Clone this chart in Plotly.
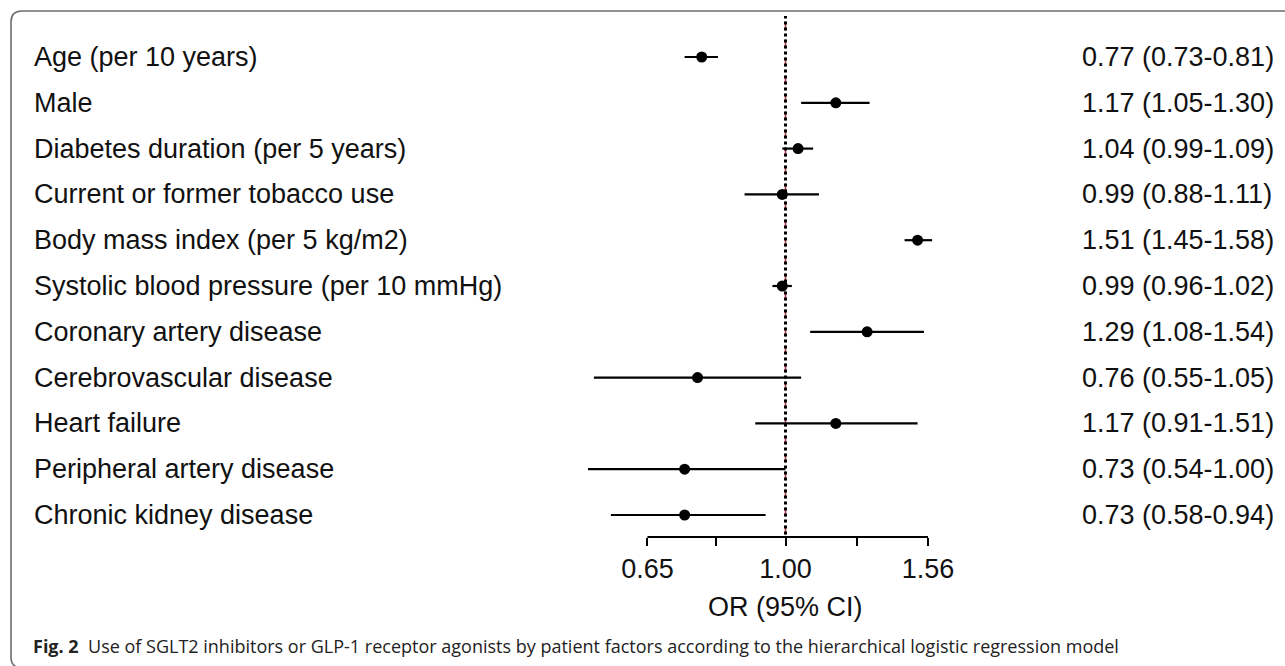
import math
import plotly.graph_objects as go

# ---- data ----
factors = [
    "Age (per 10 years)",
    "Male",
    "Diabetes duration (per 5 years)",
    "Current or former tobacco use",
    "Body mass index (per 5 kg/m2)",
    "Systolic blood pressure (per 10 mmHg)",
    "Coronary artery disease",
    "Cerebrovascular disease",
    "Heart failure",
    "Peripheral artery disease",
    "Chronic kidney disease",
]
odds_ratio = [0.77, 1.17, 1.04, 0.99, 1.51, 0.99, 1.29, 0.76, 1.17, 0.73, 0.73]
ci_low = [0.73, 1.05, 0.99, 0.88, 1.45, 0.96, 1.08, 0.55, 0.91, 0.54, 0.58]
ci_high = [0.81, 1.30, 1.09, 1.11, 1.58, 1.02, 1.54, 1.05, 1.51, 1.00, 0.94]
tick_vals = [0.65, 0.806, 1.00, 1.249, 1.56]
tick_text = ["0.65", "", "1.00", "", "1.56"]
ref_value = 1.0
caption_bold = "Fig. 2"
caption_text = "Use of SGLT2 inhibitors or GLP-1 receptor agonists by patient factors according to the hierarchical logistic regression model"
x_title = "OR (95% CI)"

# ---- layout geometry (pixels) ----
FW, FH = 1285, 666
L, R = 560, 960
T, B = 16, 537
ROW0, ROWSTEP = 57, 45.8
ONE_PX, PX_PER_DEC = 785.5, 738.0

def px(xp):
    return (xp - L) / (R - L)

def py(yp):
    return (B - yp) / (B - T)

n = len(factors)
idx = list(range(n))
labels_txt = [f"{o:.2f} ({lo:.2f}-{hi:.2f})" for o, lo, hi in zip(odds_ratio, ci_low, ci_high)]

FONT = "Liberation Sans, Arial, sans-serif"
FS = 27

fig = go.Figure()
fig.add_trace(go.Scatter(
    x=odds_ratio, y=idx, mode="markers",
    marker=dict(color="black", size=11),
    error_x=dict(type="data", symmetric=False,
                 array=[h - o for h, o in zip(ci_high, odds_ratio)],
                 arrayminus=[o - l for o, l in zip(odds_ratio, ci_low)],
                 color="black", thickness=2.2, width=0),
    showlegend=False, hoverinfo="skip",
))

shapes = []
# reference line at OR = 1 (red dashed under black dotted)
shapes.append(dict(type="line", xref="x", yref="paper", x0=ref_value, x1=ref_value,
                   y0=0.005, y1=1, line=dict(color="#b03040", width=1.5, dash="dash"), layer="below"))
shapes.append(dict(type="line", xref="x", yref="paper", x0=ref_value, x1=ref_value,
                   y0=0.005, y1=1, line=dict(color="black", width=3, dash="dot"), layer="below"))
# axis line spanning tick range
shapes.append(dict(type="line", xref="x", yref="paper", x0=tick_vals[0], x1=tick_vals[-1],
                   y0=0, y1=0, line=dict(color="black", width=2)))
# frame (rounded rect partially cut off)
fx0, fy0, rr = 11, 11, 11
path = (f"M {px(FW + 10)},{py(FH + 2)} L {px(fx0 + rr)},{py(FH + 2)} "
        f"Q {px(fx0)},{py(FH + 2)} {px(fx0)},{py(FH + 2 - rr)} "
        f"L {px(fx0)},{py(fy0 + rr)} Q {px(fx0)},{py(fy0)} {px(fx0 + rr)},{py(fy0)} "
        f"L {px(FW + 10)},{py(fy0)}")
shapes.append(dict(type="path", xref="paper", yref="paper", path=path,
                   line=dict(color="#6e6e6e", width=1.6)))

annotations = []
for i in idx:
    annotations.append(dict(xref="paper", yref="y", x=px(32), y=i, text=factors[i],
                            xanchor="left", yanchor="middle", showarrow=False,
                            font=dict(family=FONT, size=FS, color="#111")))
    annotations.append(dict(xref="paper", yref="y", x=px(1080), y=i, text=labels_txt[i],
                            xanchor="left", yanchor="middle", showarrow=False,
                            font=dict(family=FONT, size=FS, color="#111")))
annotations.append(dict(xref="x", yref="paper", x=math.log10(ref_value), y=py(607), text=x_title,
                        xanchor="center", yanchor="middle", showarrow=False,
                        font=dict(family=FONT, size=FS, color="#111")))
annotations.append(dict(xref="paper", yref="paper", x=px(31), y=py(646),
                        text=f"<b>{caption_bold}</b>  {caption_text}",
                        xanchor="left", yanchor="middle", showarrow=False,
                        font=dict(family="Open Sans, sans-serif", size=18, color="#222")))

fig.update_layout(
    width=FW, height=FH,
    margin=dict(l=L, r=FW - R, t=T, b=FH - B, pad=0),
    paper_bgcolor="white", plot_bgcolor="white",
    xaxis=dict(type="log",
               range=[(L - ONE_PX) / PX_PER_DEC, (R - ONE_PX) / PX_PER_DEC],
               tickvals=tick_vals, ticktext=tick_text,
               ticks="outside", ticklen=8, tickwidth=2, tickcolor="black",
               showline=False, showgrid=False, zeroline=False,
               tickfont=dict(family=FONT, size=FS, color="#111")),
    yaxis=dict(range=[(B - ROW0) / ROWSTEP, (T - ROW0) / ROWSTEP],
               showticklabels=False, showgrid=False, zeroline=False, showline=False, ticks=""),
    shapes=shapes, annotations=annotations,
)

fig.write_html("out.html", config={"displayModeBar": False},
               post_script="document.body.style.margin='0';document.body.style.overflow='hidden';")
